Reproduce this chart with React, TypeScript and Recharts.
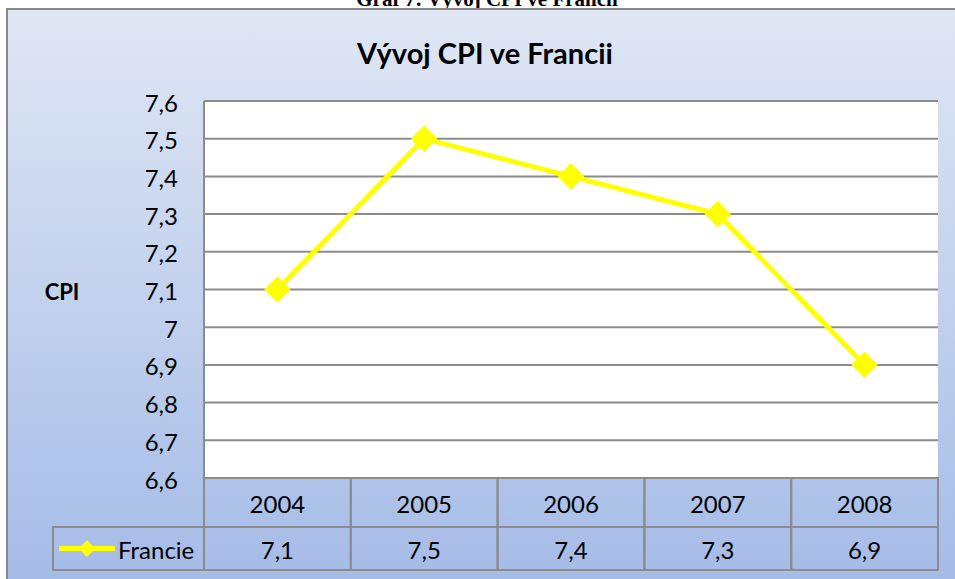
import { LineChart, Line, XAxis, YAxis, CartesianGrid } from 'recharts';

const years = ['2004', '2005', '2006', '2007', '2008'];
const cpi = [7.1, 7.5, 7.4, 7.3, 6.9];
const yTicks = [6.6, 6.7, 6.8, 6.9, 7, 7.1, 7.2, 7.3, 7.4, 7.5, 7.6];
const seriesName = 'Francie';
const chartTitle = 'Vývoj CPI ve Francii';
const caption = 'Graf 7: Vývoj CPI ve Francii';
const yLabel = 'CPI';

const W = 955;
const H = 579;
const PLOT_LEFT = 204;
const PLOT_RIGHT = 938;
const PLOT_TOP = 101;
const PLOT_BOTTOM = 478;
const ROW1 = 49; // year row height
const ROW2 = 43; // value row height
const COL_W = (PLOT_RIGHT - PLOT_LEFT) / years.length;
const GRID = '#8c8c8c';
const YELLOW = '#ffff00';
const FONT = 'Lato, "Open Sans", sans-serif';

const data = years.map((year, i) => ({ year, cpi: cpi[i] }));

const fmt = (v: number) => String(v).replace('.', ',');

function Diamond({ cx, cy, r }: { cx?: number; cy?: number; r: number }) {
  if (cx == null || cy == null) return null;
  const d = `M${cx},${cy - r} L${cx + r},${cy} L${cx},${cy + r} L${cx - r},${cy} Z`;
  return <path d={d} fill={YELLOW} stroke={YELLOW} strokeWidth={2} strokeLinejoin="round" />;
}

function YTick(props: any) {
  const { y, payload } = props;
  return (
    <text x={PLOT_LEFT - 26} y={y + 1} textAnchor="end" dominantBaseline="central" fontFamily={FONT} fontSize={24} fill="#000">
      {fmt(payload.value)}
    </text>
  );
}

// category axis drawn as the data table under the plot
function TableTick(props: any) {
  const { x, y, payload, index } = props;
  const left = x - COL_W / 2;
  return (
    <g>
      <rect x={left} y={y} width={COL_W} height={ROW1} fill="none" stroke={GRID} strokeWidth={2} />
      <rect x={left} y={y + ROW1} width={COL_W} height={ROW2} fill="none" stroke={GRID} strokeWidth={2} />
      <text x={x} y={y + ROW1 / 2 + 1} textAnchor="middle" dominantBaseline="central" fontFamily={FONT} fontSize={24} fill="#000">
        {payload.value}
      </text>
      <text x={x} y={y + ROW1 + ROW2 / 2 + 1} textAnchor="middle" dominantBaseline="central" fontFamily={FONT} fontSize={24} fill="#000">
        {fmt(cpi[index])}
      </text>
    </g>
  );
}

export default function App() {
  const legendTop = PLOT_BOTTOM + ROW1;
  const legendMid = legendTop + ROW2 / 2;
  return (
    <div style={{ position: 'fixed', left: 0, top: 0, width: W, height: H, overflow: 'hidden', background: '#fff' }}>
      <svg width={W} height={H} style={{ position: 'absolute', left: 0, top: 0 }}>
        <defs>
          <linearGradient id="bg" x1="0" y1="0" x2="0" y2="1">
            <stop offset="0%" stopColor="#e0e7f4" />
            <stop offset="100%" stopColor="#a0b8e6" />
          </linearGradient>
        </defs>
        <text x={487} y={6} textAnchor="middle" fontFamily='"Liberation Serif", serif' fontWeight="bold" fontSize={21} fill="#000">
          {caption}
        </text>
        <rect x={7} y={9} width={1000} height={620} fill="url(#bg)" stroke="#898989" strokeWidth={2} />
        <text x={485} y={52} textAnchor="middle" dominantBaseline="central" fontFamily={FONT} fontWeight="bold" fontSize={29} fill="#000">
          {chartTitle}
        </text>
        <text x={62} y={291} textAnchor="middle" dominantBaseline="central" fontFamily={FONT} fontWeight="bold" fontSize={22} fill="#000">
          {yLabel}
        </text>
        {/* legend key cell of the data table */}
        <rect x={53} y={legendTop} width={PLOT_LEFT - 53} height={ROW2} fill="none" stroke={GRID} strokeWidth={2} />
        <line x1={59} x2={115} y1={legendMid} y2={legendMid} stroke={YELLOW} strokeWidth={5} />
        <Diamond cx={87} cy={legendMid} r={7} />
        <text x={118} y={legendMid + 1} dominantBaseline="central" fontFamily={FONT} fontSize={24} fill="#000">
          {seriesName}
        </text>
      </svg>
      <div style={{ position: 'absolute', left: 0, top: 0 }}>
        <LineChart
          width={W}
          height={H}
          data={data}
          margin={{ top: PLOT_TOP, right: W - PLOT_RIGHT, bottom: H - PLOT_BOTTOM - ROW1 - ROW2, left: 0 }}
        >
          <CartesianGrid vertical={false} stroke={GRID} strokeWidth={2} fill="#fff" strokeOpacity={1} />
          <XAxis
            dataKey="year"
            height={ROW1 + ROW2}
            axisLine={false}
            tickLine={false}
            tickSize={0}
            tickMargin={0}
            interval={0}
            padding={{ left: COL_W / 2, right: COL_W / 2 }}
            tick={<TableTick />}
          />
          <YAxis
            type="number"
            domain={[6.6, 7.6]}
            ticks={yTicks}
            width={PLOT_LEFT}
            axisLine={{ stroke: GRID, strokeWidth: 2 }}
            tickLine={false}
            interval={0}
            tick={<YTick />}
          />
          <Line
            type="linear"
            dataKey="cpi"
            name={seriesName}
            stroke={YELLOW}
            strokeWidth={5}
            dot={<Diamond r={12} />}
            activeDot={false}
            isAnimationActive={false}
          />
        </LineChart>
      </div>
    </div>
  );
}
